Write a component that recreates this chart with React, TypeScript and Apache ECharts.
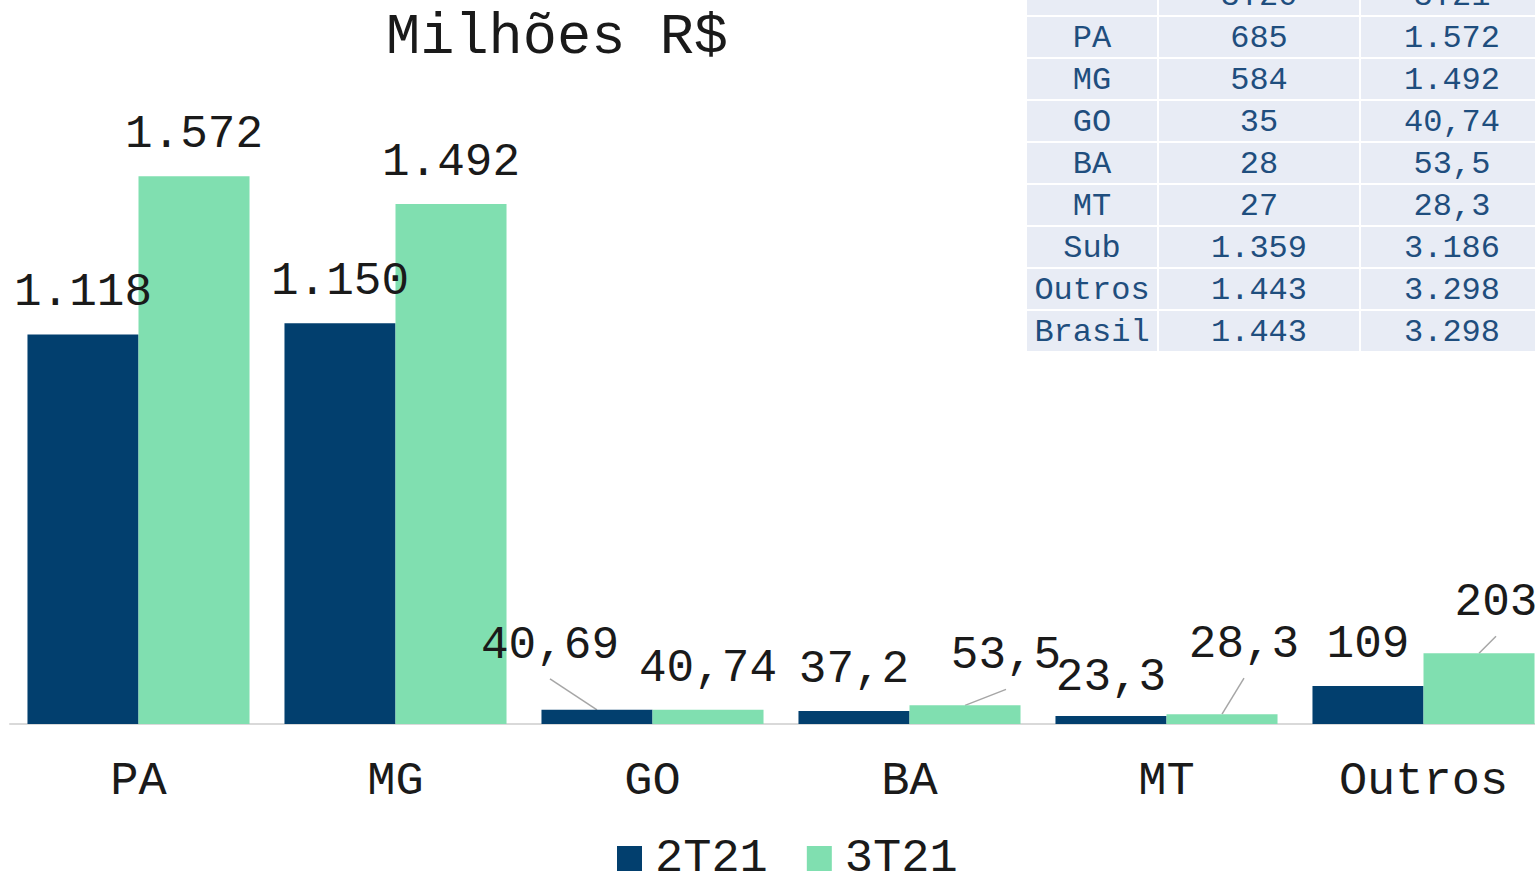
import React, { useEffect, useRef } from "react";
import * as echarts from "echarts";

const categories = ["PA", "MG", "GO", "BA", "MT", "Outros"];
const series2T21 = [1118, 1150, 40.69, 37.2, 23.3, 109];
const series3T21 = [1572, 1492, 40.74, 53.5, 28.3, 203];
const seriesNames = ["2T21", "3T21"];

const tableHeader = ["", "3T20", "3T21"];
const tableRows = ["PA", "MG", "GO", "BA", "MT", "Sub", "Outros", "Brasil"];
const table3T20 = ["685", "584", "35", "28", "27", "1.359", "1.443", "1.443"];
const table3T21 = ["1.572", "1.492", "40,74", "53,5", "28,3", "3.186", "3.298", "3.298"];

const fmt = (v: number) => {
  if (v >= 1000) {
    const s = String(Math.round(v));
    return s.slice(0, s.length - 3) + "." + s.slice(s.length - 3);
  }
  return String(v).replace(".", ",");
};

// label shifts [series][index] -> [dx, dy]
const shifts2T21: number[][] = [[0, 0], [0, 0], [-47, -23], [0, 0], [0, 3], [0, 0]];
const shifts3T21: number[][] = [[0, 0], [0, 0], [0, 0], [41, -8], [22, -28], [17, -9]];

const DARK = "#023F6E";
const GREEN = "#80DFB0";
const FONT = "'Liberation Mono', 'Courier New', monospace";

const GRID_LEFT = 10;
const GRID_WIDTH = 1542;
const GRID_TOP = 27;
const GRID_BOTTOM = 151;
const CAT_GAP = 0.136;

export default function App() {
  const ref = useRef<HTMLDivElement>(null);
  useEffect(() => {
    if (!ref.current) return;
    const chart = echarts.init(ref.current, null, { renderer: "svg" });

    const colX = [1027, 1159, 1361];
    const colW = [130, 200, 182];
    const rowH = 42;
    const top0 = -25;
    const graphics: any[] = [];
    const allRows = [tableHeader, ...tableRows.map((r, i) => [r, table3T20[i], table3T21[i]])];
    allRows.forEach((row, ri) => {
      row.forEach((cell, ci) => {
        const y = top0 + ri * rowH;
        graphics.push({
          type: "rect",
          shape: { x: colX[ci], y, width: colW[ci], height: rowH - 2 },
          style: { fill: "#E8ECF5" },
          silent: true,
        });
        graphics.push({
          type: "text",
          x: colX[ci] + colW[ci] / 2,
          y: y + (rowH - 2) / 2 + 1,
          style: {
            text: cell,
            font: `32px ${FONT}`,
            fill: "#1F4E7E",
            align: "center",
            verticalAlign: "middle",
          },
          silent: true,
        });
      });
    });

    const mkData = (vals: number[], shifts: number[][]) =>
      vals.map((v, i) => ({
        value: v,
        label: { offset: shifts[i] },
      }));

    const labelCommon = {
      show: true,
      position: "top",
      distance: 18,
      fontFamily: FONT,
      fontSize: 46,
      color: "#1a1a1a",
      formatter: (p: any) => fmt(p.value),
    };

    const option: any = {
      animation: false,
      title: {
        text: "Milhões R$",
        left: 381,
        top: 4,
        textStyle: { fontFamily: FONT, fontSize: 57, fontWeight: "normal", color: "#1a1a1a" },
      },
      legend: {
        data: seriesNames,
        top: 830,
        left: 612,
        itemWidth: 25,
        itemHeight: 25,
        itemGap: 39,
        icon: "rect",
        textStyle: {
          fontFamily: FONT,
          fontSize: 47,
          lineHeight: 38,
          color: "#1a1a1a",
          padding: [0, 0, 0, 8],
        },
      },
      grid: {
        left: GRID_LEFT,
        width: GRID_WIDTH,
        top: GRID_TOP,
        bottom: GRID_BOTTOM,
        containLabel: false,
        outerBoundsMode: "none",
      },
      xAxis: {
        type: "category",
        data: categories,
        axisLine: { show: true, lineStyle: { color: "#D9D9D9", width: 2 } },
        axisTick: { show: false },
        axisLabel: { fontFamily: FONT, fontSize: 47, color: "#1a1a1a", margin: 34 },
      },
      yAxis: { type: "value", min: 0, max: 2000, show: false, splitLine: { show: false } },
      series: [
        {
          name: seriesNames[0],
          type: "bar",
          data: mkData(series2T21, shifts2T21),
          itemStyle: { color: DARK },
          barGap: "0%",
          barCategoryGap: CAT_GAP * 100 + "%",
          label: labelCommon,
        },
        {
          name: seriesNames[1],
          type: "bar",
          data: mkData(series3T21, shifts3T21),
          itemStyle: { color: GREEN },
          barGap: "0%",
          barCategoryGap: CAT_GAP * 100 + "%",
          label: labelCommon,
        },
      ],
      graphic: graphics,
    };
    chart.setOption(option);

    // leader lines for moved labels, positioned via the chart's own scales
    const catW = GRID_WIDTH / categories.length;
    const barW = (catW * (1 - CAT_GAP)) / 2;
    const lines: any[] = [];
    [
      { vals: series2T21, shifts: shifts2T21, side: -1 },
      { vals: series3T21, shifts: shifts3T21, side: 1 },
    ].forEach((s) => {
      s.vals.forEach((v, i) => {
        const [dx, dy] = s.shifts[i];
        if (Math.abs(dx) < 5 && Math.abs(dy) < 5) return;
        const p = chart.convertToPixel({ gridIndex: 0 }, [i, v]) as number[];
        const bx = p[0] + (s.side * barW) / 2;
        const by = p[1];
        lines.push({
          type: "line",
          shape: { x1: bx + dx, y1: by - 8 + dy, x2: bx, y2: by },
          style: { stroke: "#A6A6A6", lineWidth: 1.5 },
          silent: true,
        });
      });
    });
    chart.setOption({ graphic: [...graphics, ...lines] });

    return () => chart.dispose();
  }, []);
  return (
    <div
      ref={ref}
      style={{ position: "fixed", left: 0, top: 0, width: 1535, height: 875, background: "#fff" }}
    />
  );
}
